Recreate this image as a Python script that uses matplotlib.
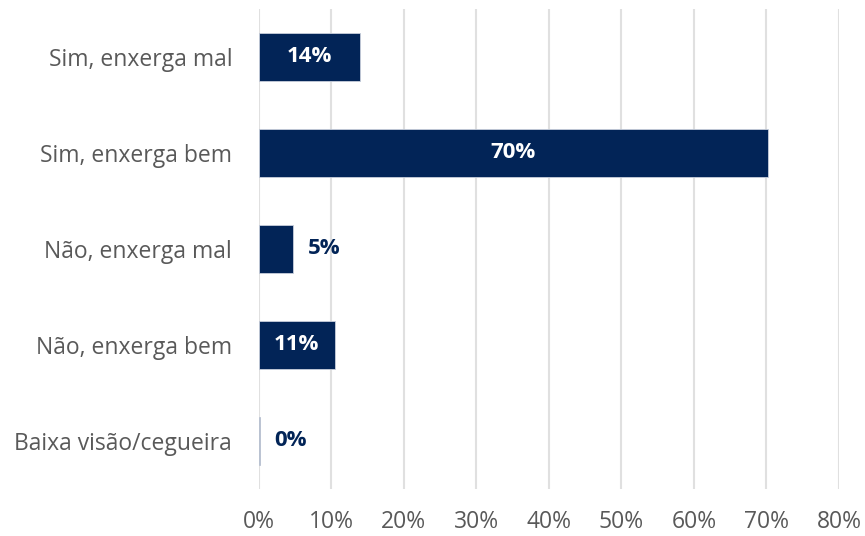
import matplotlib.pyplot as plt
import numpy as np

# respostas (de cima para baixo)
categories = ['Sim, enxerga mal', 'Sim, enxerga bem', 'Não, enxerga mal',
              'Não, enxerga bem', 'Baixa visão/cegueira']
values = [14.0, 70.2, 4.8, 10.5, 0.2]
labels = ['14%', '70%', '5%', '11%', '0%']
xticks = [0, 10, 20, 30, 40, 50, 60, 70, 80]

navy = '#022457'
plt.rcParams['font.family'] = ['Open Sans', 'DejaVu Sans']

fig = plt.figure(figsize=(8.65, 5.36), dpi=100)
ax = fig.add_axes([0.299, 0.088, 0.671, 0.896])

y = np.arange(len(categories))
bars = ax.barh(y, values, height=0.5, color=navy, edgecolor='#c8cfdc',
               linewidth=0.6, zorder=3)

for i in range(len(bars)):
    w = bars[i].get_width()
    if w > 8:
        ax.text(w / 2, y[i], labels[i], ha='center', va='center',
                color='white', fontsize=16, fontweight='bold', zorder=4)
    else:
        ax.text(w + 2.0, y[i], labels[i], ha='left', va='center',
                color=navy, fontsize=16, fontweight='bold', zorder=4)

ax.set_xlim(0, 80)
ax.set_ylim(len(categories) - 0.5, -0.5)
ax.set_yticks(y)
ax.set_yticklabels(categories)
ax.set_xticks(xticks)
ax.set_xticklabels([str(t) + '%' for t in xticks])
ax.tick_params(axis='both', length=0, labelsize=16.5, colors='#595959')
ax.tick_params(axis='y', pad=19)
ax.tick_params(axis='x', pad=15)
ax.grid(axis='x', color='#e0e0e0', linewidth=1.5, zorder=0)
for s in ax.spines.values():
    s.set_visible(False)

fig.savefig('out.png', dpi=100)
